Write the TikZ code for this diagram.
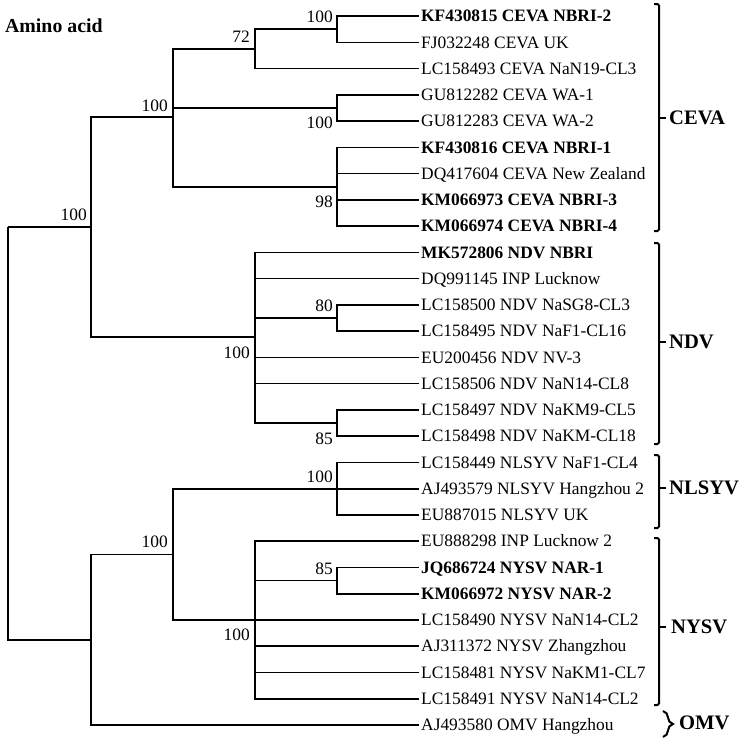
\documentclass[tikz,border=0pt]{standalone}
\usepackage{fontspec}
\setmainfont{Liberation Serif}
\usetikzlibrary{decorations.pathreplacing}
\newcommand{\lfont}{\fontsize{17.4}{19}\selectfont}
\newcommand{\cfont}{\fontsize{20.6}{22}\selectfont}
\begin{document}
\begin{tikzpicture}[x=1pt,y=-1pt,
  branch/.style={line width=1.6pt},
  leaf/.style={anchor=west, font=\lfont, text height=11.4pt, text depth=0pt, inner xsep=2pt, inner ysep=0pt},
  bleaf/.style={leaf, font=\lfont\bfseries},
  supp/.style={anchor=east, font=\lfont, text height=11.5pt, text depth=0pt, inner sep=0pt},
  clade/.style={anchor=west, font=\cfont\bfseries, text height=13.6pt, text depth=0pt, inner sep=0pt},
  bracket/.style={line width=2pt}
]
\useasboundingbox (0,0) rectangle (744,740);

% title
\node[anchor=base west, inner sep=0pt, font=\fontsize{19.8}{21}\selectfont\bfseries] (title) at (5,32) {Amino acid};

% leaves
\node[bleaf] (t0)  at (419,16.0)  {KF430815 CEVA NBRI-2};
\node[leaf]  (t1)  at (419,42.3)  {FJ032248 CEVA UK};
\node[leaf]  (t2)  at (419,68.5)  {LC158493 CEVA NaN19-CL3};
\node[leaf]  (t3)  at (419,94.8)  {GU812282 CEVA WA-1};
\node[leaf]  (t4)  at (419,121.0) {GU812283 CEVA WA-2};
\node[bleaf] (t5)  at (419,147.3) {KF430816 CEVA NBRI-1};
\node[leaf]  (t6)  at (419,173.6) {DQ417604 CEVA New Zealand};
\node[bleaf] (t7)  at (419,199.8) {KM066973 CEVA NBRI-3};
\node[bleaf] (t8)  at (419,226.1) {KM066974 CEVA NBRI-4};
\node[bleaf] (t9)  at (419,252.3) {MK572806 NDV NBRI};
\node[leaf]  (t10) at (419,278.6) {DQ991145 INP Lucknow};
\node[leaf]  (t11) at (419,304.9) {LC158500 NDV NaSG8-CL3};
\node[leaf]  (t12) at (419,331.1) {LC158495 NDV NaF1-CL16};
\node[leaf]  (t13) at (419,357.4) {EU200456 NDV NV-3};
\node[leaf]  (t14) at (419,383.6) {LC158506 NDV NaN14-CL8};
\node[leaf]  (t15) at (419,409.9) {LC158497 NDV NaKM9-CL5};
\node[leaf]  (t16) at (419,436.2) {LC158498 NDV NaKM-CL18};
\node[leaf]  (t17) at (419,462.4) {LC158449 NLSYV NaF1-CL4};
\node[leaf]  (t18) at (419,488.7) {AJ493579 NLSYV Hangzhou 2};
\node[leaf]  (t19) at (419,514.9) {EU887015 NLSYV UK};
\node[leaf]  (t20) at (419,541.2) {EU888298 INP Lucknow 2};
\node[bleaf] (t21) at (419,567.5) {JQ686724 NYSV NAR-1};
\node[bleaf] (t22) at (419,593.7) {KM066972 NYSV NAR-2};
\node[leaf]  (t23) at (419,620.0) {LC158490 NYSV NaN14-CL2};
\node[leaf]  (t24) at (419,646.2) {AJ311372 NYSV Zhangzhou};
\node[leaf]  (t25) at (419,672.5) {LC158481 NYSV NaKM1-CL7};
\node[leaf]  (t26) at (419,698.8) {LC158491 NYSV NaN14-CL2};
\node[leaf]  (t27) at (419,725.0) {AJ493580 OMV Hangzhou};

% internal nodes
\coordinate (n100a) at (337,29.2);
\coordinate (n72)   at (255,48.8);
\coordinate (n100b) at (337,107.9);
\coordinate (n98)   at (337,186.7);
\coordinate (nCEVA) at (173,117);
\coordinate (n80)   at (337,318);
\coordinate (n85a)  at (337,423);
\coordinate (nNDV)  at (255,337);
\coordinate (nA)    at (91,227);
\coordinate (nNLSYV) at (337,488.7);
\coordinate (n85b)  at (337,580.6);
\coordinate (nNYSV) at (255,620);
\coordinate (nC)    at (173,554.4);
\coordinate (nB)    at (91,639.7);
\coordinate (root)  at (8,227);

% branches
\draw[branch] (n100a) |- (t0.west);
\draw[branch] (n100a) |- (t1.west);
\draw[branch] (n72) |- (n100a);
\draw[branch] (n72) |- (t2.west);
\draw[branch] (n100b) |- (t3.west);
\draw[branch] (n100b) |- (t4.west);
\draw[branch] (n98) |- (t5.west);
\draw[branch] (n98) |- (t6.west);
\draw[branch] (n98) |- (t7.west);
\draw[branch] (n98) |- (t8.west);
\draw[branch] (nCEVA) |- (n72);
\draw[branch] (nCEVA) |- (n100b);
\draw[branch] (nCEVA) |- (n98);
\draw[branch] (n80) |- (t11.west);
\draw[branch] (n80) |- (t12.west);
\draw[branch] (n85a) |- (t15.west);
\draw[branch] (n85a) |- (t16.west);
\draw[branch] (nNDV) |- (t9.west);
\draw[branch] (nNDV) |- (t10.west);
\draw[branch] (nNDV) |- (n80);
\draw[branch] (nNDV) |- (t13.west);
\draw[branch] (nNDV) |- (t14.west);
\draw[branch] (nNDV) |- (n85a);
\draw[branch] (nA) |- (nCEVA);
\draw[branch] (nA) |- (nNDV);
\draw[branch] (nNLSYV) |- (t17.west);
\draw[branch] (nNLSYV) |- (t18.west);
\draw[branch] (nNLSYV) |- (t19.west);
\draw[branch] (n85b) |- (t21.west);
\draw[branch] (n85b) |- (t22.west);
\draw[branch] (nNYSV) |- (t20.west);
\draw[branch] (nNYSV) |- (n85b);
\draw[branch] (nNYSV) |- (t23.west);
\draw[branch] (nNYSV) |- (t24.west);
\draw[branch] (nNYSV) |- (t25.west);
\draw[branch] (nNYSV) |- (t26.west);
\draw[branch] (nC) |- (nNLSYV);
\draw[branch] (nC) |- (nNYSV);
\draw[branch] (nB) |- (nC);
\draw[branch] (nB) |- (t27.west);
\draw[branch] (root) |- (nA);
\draw[branch] (root) |- (nB);

% support values
\node[supp] (s100a) at (333,17)  {100};
\node[supp] (s72)   at (250,37)  {72};
\node[supp] (sCEVA) at (168,106) {100};
\node[supp] (s100b) at (333,123) {100};
\node[supp] (s98)   at (333,202) {98};
\node[supp] (sroot) at (87,215)  {100};
\node[supp] (s80)   at (333,306) {80};
\node[supp] (sNDV)  at (250,353) {100};
\node[supp] (s85a)  at (333,439) {85};
\node[supp] (sNLSYV) at (333,477) {100};
\node[supp] (sC)    at (168,542) {100};
\node[supp] (s85b)  at (333,569) {85};
\node[supp] (sNYSV) at (250,635) {100};

% clade brackets
\draw[bracket, rounded corners=1.5pt] (654,4) -- (659,4) -- (659,231) -- (654,231);
\draw[bracket] (659,118) -- (666,118);
\node[clade] (cCEVA) at (669,118) {CEVA};

\draw[bracket, rounded corners=1.5pt] (654,243) -- (659,243) -- (659,444) -- (654,444);
\draw[bracket] (659,342) -- (666,342);
\node[clade] (cNDV) at (669,342) {NDV};

\draw[bracket, rounded corners=1.5pt] (654,455) -- (659,455) -- (659,528) -- (654,528);
\draw[bracket] (659,488) -- (666,488);
\node[clade] (cNLSYV) at (669,488) {NLSYV};

\draw[bracket, rounded corners=1.5pt] (654,538) -- (659,538) -- (659,705) -- (654,705);
\draw[bracket] (659,627) -- (666,627);
\node[clade] (cNYSV) at (671,627) {NYSV};

\draw[bracket, decorate, decoration={brace, amplitude=10pt}] (663,711) -- (663,737);
\node[clade] (cOMV) at (679,723) {OMV};
\end{tikzpicture}
\end{document}
